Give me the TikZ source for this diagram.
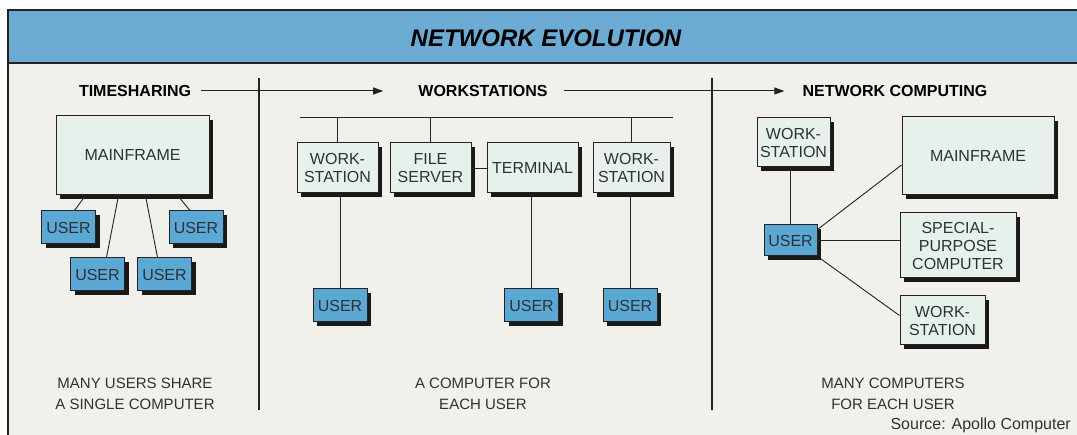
\documentclass[tikz,border=0pt]{standalone}
\usepackage{fontspec}
\setmainfont{Liberation Sans}
\usepackage{xcolor}
\usetikzlibrary{arrows.meta,positioning,shadows}
\definecolor{PaperTone}{RGB}{242,240,234}
\definecolor{BandBlue}{RGB}{108,172,212}
\definecolor{UserBlue}{RGB}{92,168,212}
\definecolor{BoxGray}{RGB}{232,240,236}
\definecolor{InkGray}{RGB}{35,35,35}
\definecolor{TextGray}{RGB}{45,50,55}

\begin{document}
\begin{tikzpicture}[
x=1pt,y=-1pt,
box/.style={
draw=InkGray,
line width=1pt,
fill=BoxGray,
align=center,
inner sep=0pt,
text=TextGray,
font=\fontsize{16}{18}\selectfont,
drop shadow={shadow xshift=4pt,shadow yshift=-4pt,fill=black!90,opacity=1}
},
user/.style={box,fill=UserBlue,minimum width=54pt,minimum height=33pt},
head/.style={font=\fontsize{16}{18}\selectfont\bfseries,inner sep=0pt},
caption/.style={font=\fontsize{15}{21}\selectfont,align=center,inner sep=0pt,text=TextGray},
link/.style={InkGray,line width=0.9pt},
arrow/.style={-{Triangle[length=10pt,width=7pt]},InkGray,line width=1pt}
]
\useasboundingbox (0,0) rectangle (1077,435);

% paper, frame and title band
\fill[white!97!PaperTone] (0,0) rectangle (1077,435);
\fill[PaperTone] (8,10) rectangle (1077,435);
\fill[BandBlue] (8,10) rectangle (1077,63);
\draw[InkGray,line width=1.2pt] (1077,10) -- (8,10) -- (8,435);
\draw[InkGray,line width=1.2pt] (8,63) -- (1077,63);
\node[font=\fontsize{24}{28}\selectfont\bfseries\itshape] (title) at (546,38) {NETWORK EVOLUTION};

% stages
\node[head] (hts) at (135,91) {TIMESHARING};
\node[head] (hws) at (483,91) {WORKSTATIONS};
\node[head] (hnc) at (895,91) {NETWORK COMPUTING};
\draw[arrow,shorten <=10pt,shorten >=35pt] (hts.east) -- (hws.west);
\draw[arrow,shorten <=16pt,shorten >=18pt] (hws.east) -- (hnc.west);
\draw[InkGray,line width=2pt] (259,78) -- (259,410);
\draw[InkGray,line width=2pt] (712,78) -- (712,410);

% timesharing
\node[box,minimum width=153pt,minimum height=79pt] (mf) at (132.5,155.5) {MAINFRAME};
\node[user] (u1) at (68.5,227.5) {USER};
\node[user] (u2) at (196,227.5) {USER};
\node[user] (u3) at (97.5,274.5) {USER};
\node[user] (u4) at (164.5,274.5) {USER};

\draw[link] ([xshift=-47pt]mf.south) -- ([xshift=6pt]u1.north);
\draw[link] ([xshift=45pt]mf.south) -- ([xshift=-6pt]u2.north);
\draw[link] ([xshift=-14pt]mf.south) -- ([xshift=9pt]u3.north);
\draw[link] ([xshift=13pt]mf.south) -- ([xshift=-7pt]u4.north);

% workstations
\coordinate (busL) at (300,117);
\coordinate (busR) at (673,117);
\node[box,minimum width=81pt,minimum height=50pt] (ws1) at (337.5,168) {WORK-\\STATION};
\node[box,minimum width=81pt,minimum height=50pt,right=11pt of ws1] (fs) {FILE\\SERVER};
\node[box,minimum width=91pt,minimum height=50pt,right=15pt of fs] (term) {TERMINAL};
\node[box,minimum width=77pt,minimum height=50pt,right=14pt of term] (ws2) {WORK-\\STATION};
\node[user] (u5) at (340,305.5) {USER};
\node[user] (u6) at (531.5,305.5) {USER};
\node[user] (u7) at (630,305.5) {USER};

\draw[link] (busL) -- (busR);
\draw[link] (ws1.north) -- (ws1.north |- busL);
\draw[link] (fs.north) -- (fs.north |- busL);
\draw[link] (ws2.north) -- (ws2.north |- busL);
\draw[link] (fs.east) -- (term.west);
\draw[link] (u5.north) -- (u5.north |- ws1.south);
\draw[link] (u6.north) -- (u6.north |- term.south);
\draw[link] (u7.north) -- (u7.north |- ws2.south);

% network computing
\node[box,minimum width=73pt,minimum height=49pt] (rws1) at (793.5,142.5) {WORK-\\STATION};
\node[box,minimum width=152pt,minimum height=78pt] (rmf) at (978,156) {MAINFRAME};
\node[user,minimum width=53pt,minimum height=31pt] (ru) at (790.5,240.5) {USER};
\node[box,minimum width=116pt,minimum height=65pt] (rsp) at (958,245.5) {SPECIAL-\\PURPOSE\\COMPUTER};
\node[box,minimum width=85pt,minimum height=49pt] (rws2) at (942.5,320.5) {WORK-\\STATION};

\draw[link] (ru.north) -- (ru.north |- rws1.south);
\draw[link] ([yshift=11pt]ru.east) -- ([yshift=-9pt]rmf.west);
\draw[link] (ru.east) -- (ru.east -| rsp.west);
\draw[link] (ru.south east) -- ([yshift=5pt]rws2.west);

% captions
\node[caption] (c1) at (135,393.5) {MANY USERS SHARE\\A SINGLE COMPUTER};
\node[caption] (c2) at (483,393.5) {A COMPUTER FOR\\EACH USER};
\node[caption] (c3) at (893,393.5) {MANY COMPUTERS\\FOR EACH USER};
\node[anchor=east,inner sep=0pt,text=TextGray,font=\fontsize{16}{18}\selectfont] (src) at (1071,425) {Source: Apollo Computer};
\end{tikzpicture}
\end{document}
